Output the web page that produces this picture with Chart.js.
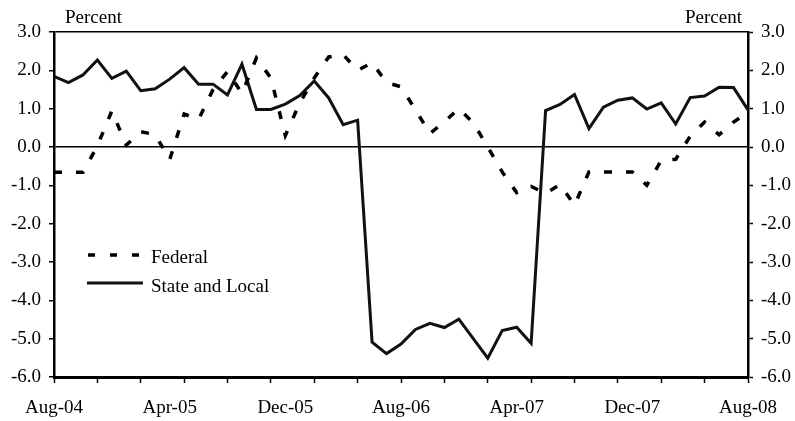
<!DOCTYPE html>
<html lang="en">

<head>
    <meta charset="UTF-8" />
    <title>Federal vs State and Local</title>
    <style>
        body {
            margin: 0;
            background: #fff;
        }

        #wrapper {
            width: 795px;
            height: 421px;
        }
    </style>
</head>

<body>
    <div id="wrapper">
        <canvas id="chart"></canvas>
    </div>

    <script src="https://cdn.jsdelivr.net/npm/chart.js@4.4.1/dist/chart.umd.min.js"></script>
    <script>
        // monthly, Aug-04 .. Aug-08
        const months = [
            "Aug-04", "Sep-04", "Oct-04", "Nov-04", "Dec-04",
            "Jan-05", "Feb-05", "Mar-05", "Apr-05", "May-05", "Jun-05", "Jul-05", "Aug-05", "Sep-05", "Oct-05", "Nov-05", "Dec-05",
            "Jan-06", "Feb-06", "Mar-06", "Apr-06", "May-06", "Jun-06", "Jul-06", "Aug-06", "Sep-06", "Oct-06", "Nov-06", "Dec-06",
            "Jan-07", "Feb-07", "Mar-07", "Apr-07", "May-07", "Jun-07", "Jul-07", "Aug-07", "Sep-07", "Oct-07", "Nov-07", "Dec-07",
            "Jan-08", "Feb-08", "Mar-08", "Apr-08", "May-08", "Jun-08", "Jul-08", "Aug-08"
        ];

        const federal = [
            -0.66, -0.66, -0.66, 0.03, 0.94, 0.05, 0.40, 0.32, -0.33, 0.86,
            0.72, 1.50, 1.97, 1.40, 2.32, 1.80, 0.30, 1.15, 1.80, 2.35,
            2.41, 2.00, 2.20, 1.68, 1.57, 0.97, 0.35, 0.66, 1.00, 0.63,
            0.00, -0.65, -1.19, -1.03, -1.21, -0.98, -1.52, -0.65, -0.65, -0.65,
            -0.65, -1.00, -0.35, -0.32, 0.28, 0.65, 0.32, 0.65, 0.90
        ];

        const stateLocal = [
            1.84, 1.68, 1.88, 2.27, 1.79, 1.98, 1.47, 1.52, 1.77, 2.07,
            1.64, 1.64, 1.36, 2.16, 0.98, 0.98, 1.12, 1.34, 1.72, 1.28,
            0.58, 0.70, -5.09, -5.39, -5.14, -4.76, -4.60, -4.71, -4.49, -5.00,
            -5.51, -4.79, -4.70, -5.12, 0.95, 1.11, 1.37, 0.48, 1.04, 1.22,
            1.28, 0.99, 1.15, 0.60, 1.29, 1.33, 1.56, 1.55, 0.97
        ];

        const yMin = -6;
        const yMax = 3;
        const labelEvery = 8;  // a label every 8 months
        const tickEvery = 3;   // a tick mark every quarter

        const serif = "'Liberation Serif', 'Times New Roman', serif";
        const font = { family: serif, size: 19 };

        // "Percent" captions and the in-plot legend
        const extras = {
            id: "extras",
            afterDraw(chart) {
                const ctx = chart.ctx;
                const area = chart.chartArea;
                ctx.save();
                ctx.fillStyle = "#000";
                ctx.font = "19px " + serif;
                ctx.textBaseline = "alphabetic";
                ctx.textAlign = "left";
                ctx.fillText("Percent", area.left + 11, 23);
                ctx.textAlign = "right";
                ctx.fillText("Percent", area.right - 6, 23);

                ctx.strokeStyle = "#000";
                ctx.lineWidth = 3.5;
                ctx.setLineDash([7, 15]);
                ctx.beginPath();
                ctx.moveTo(88, 255);
                ctx.lineTo(141, 255);
                ctx.stroke();

                ctx.setLineDash([]);
                ctx.lineWidth = 3;
                ctx.strokeStyle = "#111";
                ctx.beginPath();
                ctx.moveTo(87, 283);
                ctx.lineTo(143, 283);
                ctx.stroke();

                ctx.textAlign = "left";
                ctx.fillText("Federal", 151, 263);
                ctx.fillText("State and Local", 151, 292);
                ctx.restore();
            }
        };

        const yTicks = {
            stepSize: 1,
            color: "#000",
            font: font,
            padding: 8,
            callback: v => v.toFixed(1)
        };

        new Chart("chart", {
            type: "line",
            data: {
                labels: months,
                datasets: [{
                    label: "Federal",
                    data: federal,
                    borderColor: "#000",
                    borderWidth: 3.5,
                    borderDash: [8, 14],
                    pointRadius: 0,
                    tension: 0,
                    yAxisID: "y"
                }, {
                    label: "State and Local",
                    data: stateLocal,
                    borderColor: "#111",
                    borderWidth: 3,
                    pointRadius: 0,
                    tension: 0,
                    yAxisID: "y"
                }]
            },
            options: {
                responsive: true,
                maintainAspectRatio: false,
                animation: false,
                layout: { padding: { top: 32, left: 0, right: 0, bottom: 0 } },
                plugins: {
                    legend: { display: false },
                    tooltip: { enabled: false }
                },
                scales: {
                    x: {
                        offset: false,
                        border: { display: true, color: "#000", width: 3 },
                        grid: {
                            drawOnChartArea: false,
                            tickLength: 6,
                            tickWidth: 1.5,
                            tickColor: c => c.index % tickEvery === 0 ? "#000" : "rgba(0,0,0,0)"
                        },
                        ticks: {
                            autoSkip: false,
                            maxRotation: 0,
                            color: "#000",
                            font: font,
                            padding: 14,
                            callback: (v, i) => i % labelEvery === 0 ? months[i] : ""
                        },
                        afterFit: s => { s.height = 44; }
                    },
                    y: {
                        position: "left",
                        min: yMin,
                        max: yMax,
                        border: { display: true, color: "#000", width: 2.5 },
                        grid: {
                            color: c => (c.tick.value === 0 || c.tick.value === yMax) ? "#000" : "rgba(0,0,0,0)",
                            lineWidth: 1.5,
                            tickLength: 5,
                            tickWidth: 1.5,
                            tickColor: "#000"
                        },
                        ticks: yTicks,
                        afterFit: s => { s.width = 54; }
                    },
                    y2: {
                        position: "right",
                        min: yMin,
                        max: yMax,
                        border: { display: true, color: "#000", width: 2.5 },
                        grid: {
                            drawOnChartArea: false,
                            tickLength: 5,
                            tickWidth: 1.5,
                            tickColor: "#000"
                        },
                        ticks: yTicks,
                        afterFit: s => { s.width = 47; }
                    }
                }
            },
            plugins: [extras]
        });
    </script>
</body>

</html>
